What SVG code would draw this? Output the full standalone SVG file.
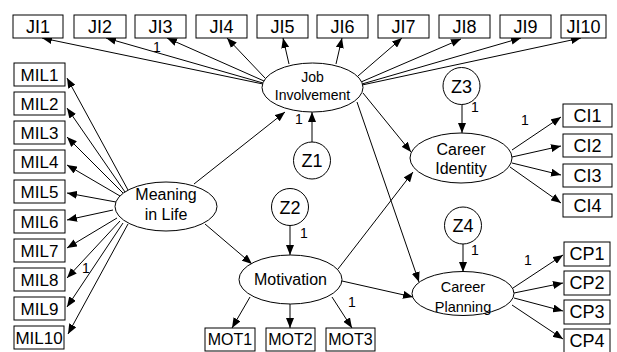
<svg xmlns="http://www.w3.org/2000/svg" width="617" height="352" viewBox="0 0 617 352">
<style>
.box{fill:#fff;stroke:#000;stroke-width:1}
.lat{fill:#fff;stroke:#000;stroke-width:1}
.t{font-family:"Liberation Sans",Arial,sans-serif;fill:#000;text-anchor:middle}
.b18{font-size:18px}.b17{font-size:17px}.b16{font-size:16px}.e14{font-size:14px}.e16{font-size:16px}
.w{font-family:"Liberation Sans",Arial,sans-serif;font-size:14px;fill:#000;text-anchor:middle}
.c line{stroke:#000;stroke-width:1;marker-end:url(#ah)}
</style>
<defs>
<marker id="ah" viewBox="0 0 10 8" refX="10" refY="4" markerWidth="10" markerHeight="8" markerUnits="userSpaceOnUse" orient="auto">
<path d="M0,0 L10,4 L0,8 z" fill="#000"/>
</marker>
</defs>
<rect width="617" height="352" fill="#fff"/>
<g id="connectors" class="c">
<line x1="263" y1="84" x2="42" y2="38"/>
<line x1="263" y1="83" x2="106" y2="38"/>
<line x1="264" y1="81" x2="167" y2="38"/>
<line x1="265" y1="78" x2="227" y2="38"/>
<line x1="289" y1="64" x2="283" y2="38"/>
<line x1="336" y1="64" x2="342" y2="38"/>
<line x1="358" y1="76" x2="402" y2="38"/>
<line x1="361" y1="82" x2="461" y2="39"/>
<line x1="362" y1="84" x2="521" y2="38"/>
<line x1="362" y1="85" x2="581" y2="38"/>
<line x1="312" y1="142" x2="312" y2="112"/>
<line x1="128" y1="190" x2="67" y2="78"/>
<line x1="125" y1="192" x2="67" y2="108"/>
<line x1="123" y1="193" x2="67" y2="137"/>
<line x1="120" y1="196" x2="67" y2="165"/>
<line x1="116" y1="202" x2="67" y2="193"/>
<line x1="113" y1="210" x2="67" y2="220"/>
<line x1="117" y1="218" x2="67" y2="248"/>
<line x1="120" y1="221" x2="67" y2="278"/>
<line x1="123" y1="223" x2="67" y2="307"/>
<line x1="128" y1="224" x2="68" y2="334"/>
<line x1="194" y1="184" x2="285" y2="112"/>
<line x1="205" y1="224" x2="252" y2="264"/>
<line x1="290" y1="225" x2="290" y2="255"/>
<line x1="250" y1="297" x2="232" y2="328"/>
<line x1="290" y1="304" x2="290" y2="328"/>
<line x1="332" y1="297" x2="352" y2="328"/>
<line x1="342" y1="281" x2="413" y2="297"/>
<line x1="338" y1="269" x2="413" y2="172"/>
<line x1="363" y1="93" x2="411" y2="152"/>
<line x1="357" y1="102" x2="419" y2="282"/>
<line x1="462" y1="104" x2="462" y2="133"/>
<line x1="463" y1="244" x2="463" y2="272"/>
<line x1="512" y1="150" x2="561" y2="117"/>
<line x1="512" y1="157" x2="561" y2="146"/>
<line x1="512" y1="163" x2="561" y2="175"/>
<line x1="510" y1="167" x2="561" y2="203"/>
<line x1="513" y1="288" x2="563" y2="255"/>
<line x1="514" y1="293" x2="563" y2="283"/>
<line x1="514" y1="298" x2="563" y2="311"/>
<line x1="512" y1="305" x2="563" y2="339"/>
</g>
<g id="weights">
<text class="w" x="157" y="52">1</text>
<text class="w" x="299" y="124">1</text>
<text class="w" x="86" y="273">1</text>
<text class="w" x="304" y="238">1</text>
<text class="w" x="352" y="307">1</text>
<text class="w" x="475" y="112">1</text>
<text class="w" x="525" y="125">1</text>
<text class="w" x="475" y="255">1</text>
<text class="w" x="528" y="265">1</text>
</g>
<g id="JI1"><rect class="box" x="13" y="15" width="50" height="23"/><text class="t b18" x="38" y="33">JI1</text></g>
<g id="JI2"><rect class="box" x="74" y="15" width="52" height="23"/><text class="t b18" x="100" y="33">JI2</text></g>
<g id="JI3"><rect class="box" x="135" y="15" width="51" height="23"/><text class="t b18" x="160.5" y="33">JI3</text></g>
<g id="JI4"><rect class="box" x="196" y="15" width="51" height="23"/><text class="t b18" x="221.5" y="33">JI4</text></g>
<g id="JI5"><rect class="box" x="257" y="15" width="51" height="23"/><text class="t b18" x="282.5" y="33">JI5</text></g>
<g id="JI6"><rect class="box" x="317" y="15" width="51" height="23"/><text class="t b18" x="342.5" y="33">JI6</text></g>
<g id="JI7"><rect class="box" x="378" y="15" width="51" height="23"/><text class="t b18" x="403.5" y="33">JI7</text></g>
<g id="JI8"><rect class="box" x="439" y="15" width="51" height="23"/><text class="t b18" x="464.5" y="33">JI8</text></g>
<g id="JI9"><rect class="box" x="500" y="15" width="51" height="23"/><text class="t b18" x="525.5" y="33">JI9</text></g>
<g id="JI10"><rect class="box" x="561" y="15" width="45" height="23"/><text class="t b18" x="583.5" y="33">JI10</text></g>
<g id="MIL1"><rect class="box" x="14" y="63" width="51" height="23"/><text class="t b17" x="39.5" y="80.5">MIL1</text></g>
<g id="MIL2"><rect class="box" x="14" y="92" width="51" height="23"/><text class="t b17" x="39.5" y="109.5">MIL2</text></g>
<g id="MIL3"><rect class="box" x="14" y="121" width="51" height="23"/><text class="t b17" x="39.5" y="138.5">MIL3</text></g>
<g id="MIL4"><rect class="box" x="14" y="150" width="51" height="23"/><text class="t b17" x="39.5" y="167.5">MIL4</text></g>
<g id="MIL5"><rect class="box" x="14" y="180" width="51" height="23"/><text class="t b17" x="39.5" y="197.5">MIL5</text></g>
<g id="MIL6"><rect class="box" x="14" y="210" width="51" height="23"/><text class="t b17" x="39.5" y="227.5">MIL6</text></g>
<g id="MIL7"><rect class="box" x="14" y="239" width="51" height="23"/><text class="t b17" x="39.5" y="256.5">MIL7</text></g>
<g id="MIL8"><rect class="box" x="14" y="268" width="51" height="23"/><text class="t b17" x="39.5" y="285.5">MIL8</text></g>
<g id="MIL9"><rect class="box" x="14" y="297" width="51" height="23"/><text class="t b17" x="39.5" y="314.5">MIL9</text></g>
<g id="MIL10"><rect class="box" x="14" y="326" width="50" height="23"/><text class="t b17" x="39" y="343.5">MIL10</text></g>
<g id="CI1"><rect class="box" x="563" y="104" width="49" height="23"/><text class="t b18" x="587.5" y="122">CI1</text></g>
<g id="CI2"><rect class="box" x="563" y="134" width="49" height="23"/><text class="t b18" x="587.5" y="152">CI2</text></g>
<g id="CI3"><rect class="box" x="563" y="164" width="49" height="23"/><text class="t b18" x="587.5" y="182">CI3</text></g>
<g id="CI4"><rect class="box" x="563" y="194" width="49" height="23"/><text class="t b18" x="587.5" y="212">CI4</text></g>
<g id="CP1"><rect class="box" x="564" y="242" width="46" height="24"/><text class="t b18" x="587" y="260">CP1</text></g>
<g id="CP2"><rect class="box" x="564" y="271" width="46" height="24"/><text class="t b18" x="587" y="289">CP2</text></g>
<g id="CP3"><rect class="box" x="564" y="300" width="46" height="24"/><text class="t b18" x="587" y="318">CP3</text></g>
<g id="CP4"><rect class="box" x="564" y="329" width="46" height="25"/><text class="t b18" x="587" y="347">CP4</text></g>
<g id="MOT1"><rect class="box" x="205" y="328" width="50" height="23"/><text class="t b16" x="230" y="345">MOT1</text></g>
<g id="MOT2"><rect class="box" x="266" y="328" width="49" height="23"/><text class="t b16" x="290.5" y="345">MOT2</text></g>
<g id="MOT3"><rect class="box" x="326" y="328" width="49" height="23"/><text class="t b16" x="350.5" y="345">MOT3</text></g>
<g id="JobInvolvement"><ellipse class="lat" cx="312.5" cy="87.5" rx="50.5" ry="24.5"/><text class="t e14" x="312.5" y="82">Job</text><text class="t e14" x="312.5" y="100">Involvement</text></g>
<g id="MeaningInLife"><ellipse class="lat" cx="166" cy="206.5" rx="51" ry="24.5"/><text class="t e16" x="166" y="200">Meaning</text><text class="t e16" x="166" y="220">in Life</text></g>
<g id="Motivation"><ellipse class="lat" cx="290.5" cy="279.5" rx="51.5" ry="24.5"/><text class="t e16" x="290.5" y="285">Motivation</text></g>
<g id="CareerIdentity"><ellipse class="lat" cx="461" cy="158" rx="51" ry="25"/><text class="t e16" x="461" y="155">Career</text><text class="t e16" x="461" y="174">Identity</text></g>
<g id="CareerPlanning"><ellipse class="lat" cx="463" cy="293.5" rx="51" ry="22"/><text class="t" style="font-size:14.5px" x="463" y="292">Career</text><text class="t" style="font-size:14.5px" x="463" y="312">Planning</text></g>
<g id="Z1"><circle class="lat" cx="312" cy="160.5" r="18.5"/><text class="t b18" x="312" y="167">Z1</text></g>
<g id="Z2"><circle class="lat" cx="290" cy="207" r="18.5"/><text class="t b18" x="290" y="213.5">Z2</text></g>
<g id="Z3"><circle class="lat" cx="461.5" cy="86" r="18.5"/><text class="t b18" x="461.5" y="92.5">Z3</text></g>
<g id="Z4"><circle class="lat" cx="463" cy="225.5" r="18.5"/><text class="t b18" x="463" y="232">Z4</text></g>
</svg>
